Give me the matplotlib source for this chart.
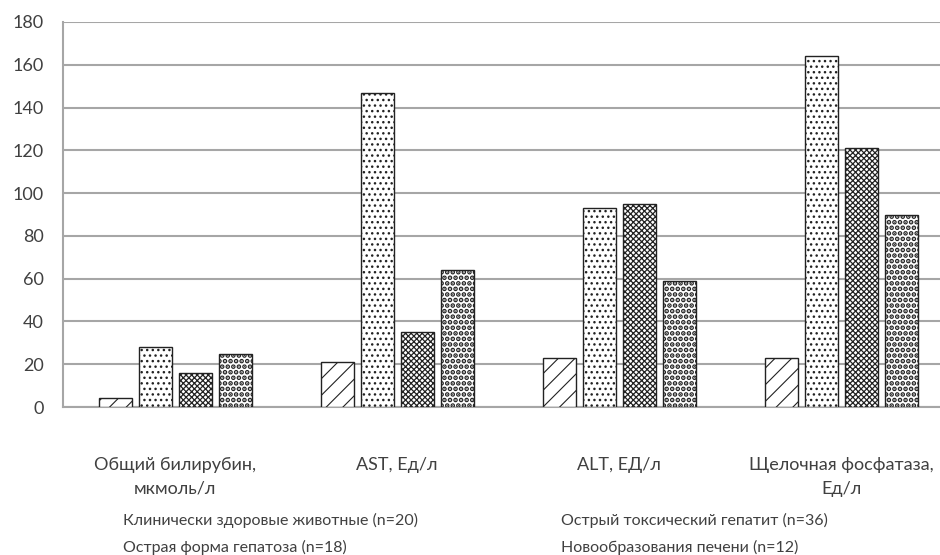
import matplotlib.pyplot as plt
import numpy as np
from matplotlib.patches import Patch

# data
categories = ['Общий билирубин,\nмкмоль/л', 'AST, Ед/л', 'ALT, ЕД/л', 'Щелочная фосфатаза,\nЕд/л']
healthy = [4, 21, 23, 23]        # Клинически здоровые животные (n=20)
toxic = [28, 147, 93, 164]       # Острый токсический гепатит (n=36)
hepatosis = [16, 35, 95, 121]    # Острая форма гепатоза (n=18)
tumors = [25, 64, 59, 90]        # Новообразования печени (n=12)
series_names = ['Клинически здоровые животные (n=20)',
                'Острый токсический гепатит (n=36)',
                'Острая форма гепатоза (n=18)',
                'Новообразования печени (n=12)']
yticks = list(range(0, 181, 20))

plt.rcParams['font.family'] = ['Lato', 'DejaVu Sans']
text_color = '#404040'
grid_color = '#a6a6a6'

fig = plt.figure(figsize=(9.4, 5.55), dpi=100)
ax = fig.add_axes([63 / 940, 1 - 407 / 555, 877 / 940, 385 / 555])

x = np.arange(len(categories))
w = 0.149
offsets = [-0.27, -0.09, 0.09, 0.27]
styles = [
    dict(hatch='//', hc='#000000', lw=0.8),
    dict(hatch='...', hc='#555555', lw=1.0),
    dict(hatch='xxxxxx', hc='#3a3a3a', lw=0.9),
    dict(hatch='...', hc='#000000', lw=2.4),
]
all_vals = [healthy, toxic, hepatosis, tumors]

for vals, off, st in zip(all_vals, offsets, styles):
    with plt.rc_context({'hatch.color': st['hc'], 'hatch.linewidth': st['lw']}):
        bars = ax.bar(x + off, vals, width=w, facecolor='white',
                      edgecolor='#222222', linewidth=1.0, hatch=st['hatch'],
                      zorder=3)
    for b in bars:
        if hasattr(b, 'set_hatch_linewidth'):
            b.set_hatch_linewidth(st['lw'])
        if hasattr(b, 'set_hatchcolor'):
            b.set_hatchcolor(st['hc'])

ax.set_xlim(-0.505, -0.505 + 877 / 222)
ax.set_ylim(0, 180)
ax.set_yticks(yticks)
ax.yaxis.grid(True, color=grid_color, linewidth=1.5, zorder=0)
ax.set_axisbelow(True)
for s in ['top', 'right']:
    ax.spines[s].set_visible(False)
ax.spines['left'].set_color(grid_color)
ax.spines['bottom'].set_color(grid_color)
ax.spines['left'].set_linewidth(1.5)
ax.spines['bottom'].set_linewidth(1.5)
ax.tick_params(axis='both', length=0, labelsize=13, colors=text_color)
ax.tick_params(axis='y', pad=14)
ax.set_xticks(x)
ax.set_xticklabels(categories)
ax.tick_params(axis='x', pad=36)
for lbl in ax.get_xticklabels():
    lbl.set_linespacing(1.6)

# legend without visible keys, filled row by row like the original
blank = [Patch(facecolor='none', edgecolor='none') for _ in series_names]
order = [0, 2, 1, 3]
leg = fig.legend([blank[i] for i in order], [series_names[i] for i in order],
                 ncol=2, loc='lower left', bbox_to_anchor=(109 / 940, -0.026),
                 frameon=False, handlelength=0, handletextpad=0,
                 columnspacing=8.9, labelspacing=0.72, fontsize=11.5,
                 labelcolor=text_color)

fig.savefig('out.png', dpi=100)
